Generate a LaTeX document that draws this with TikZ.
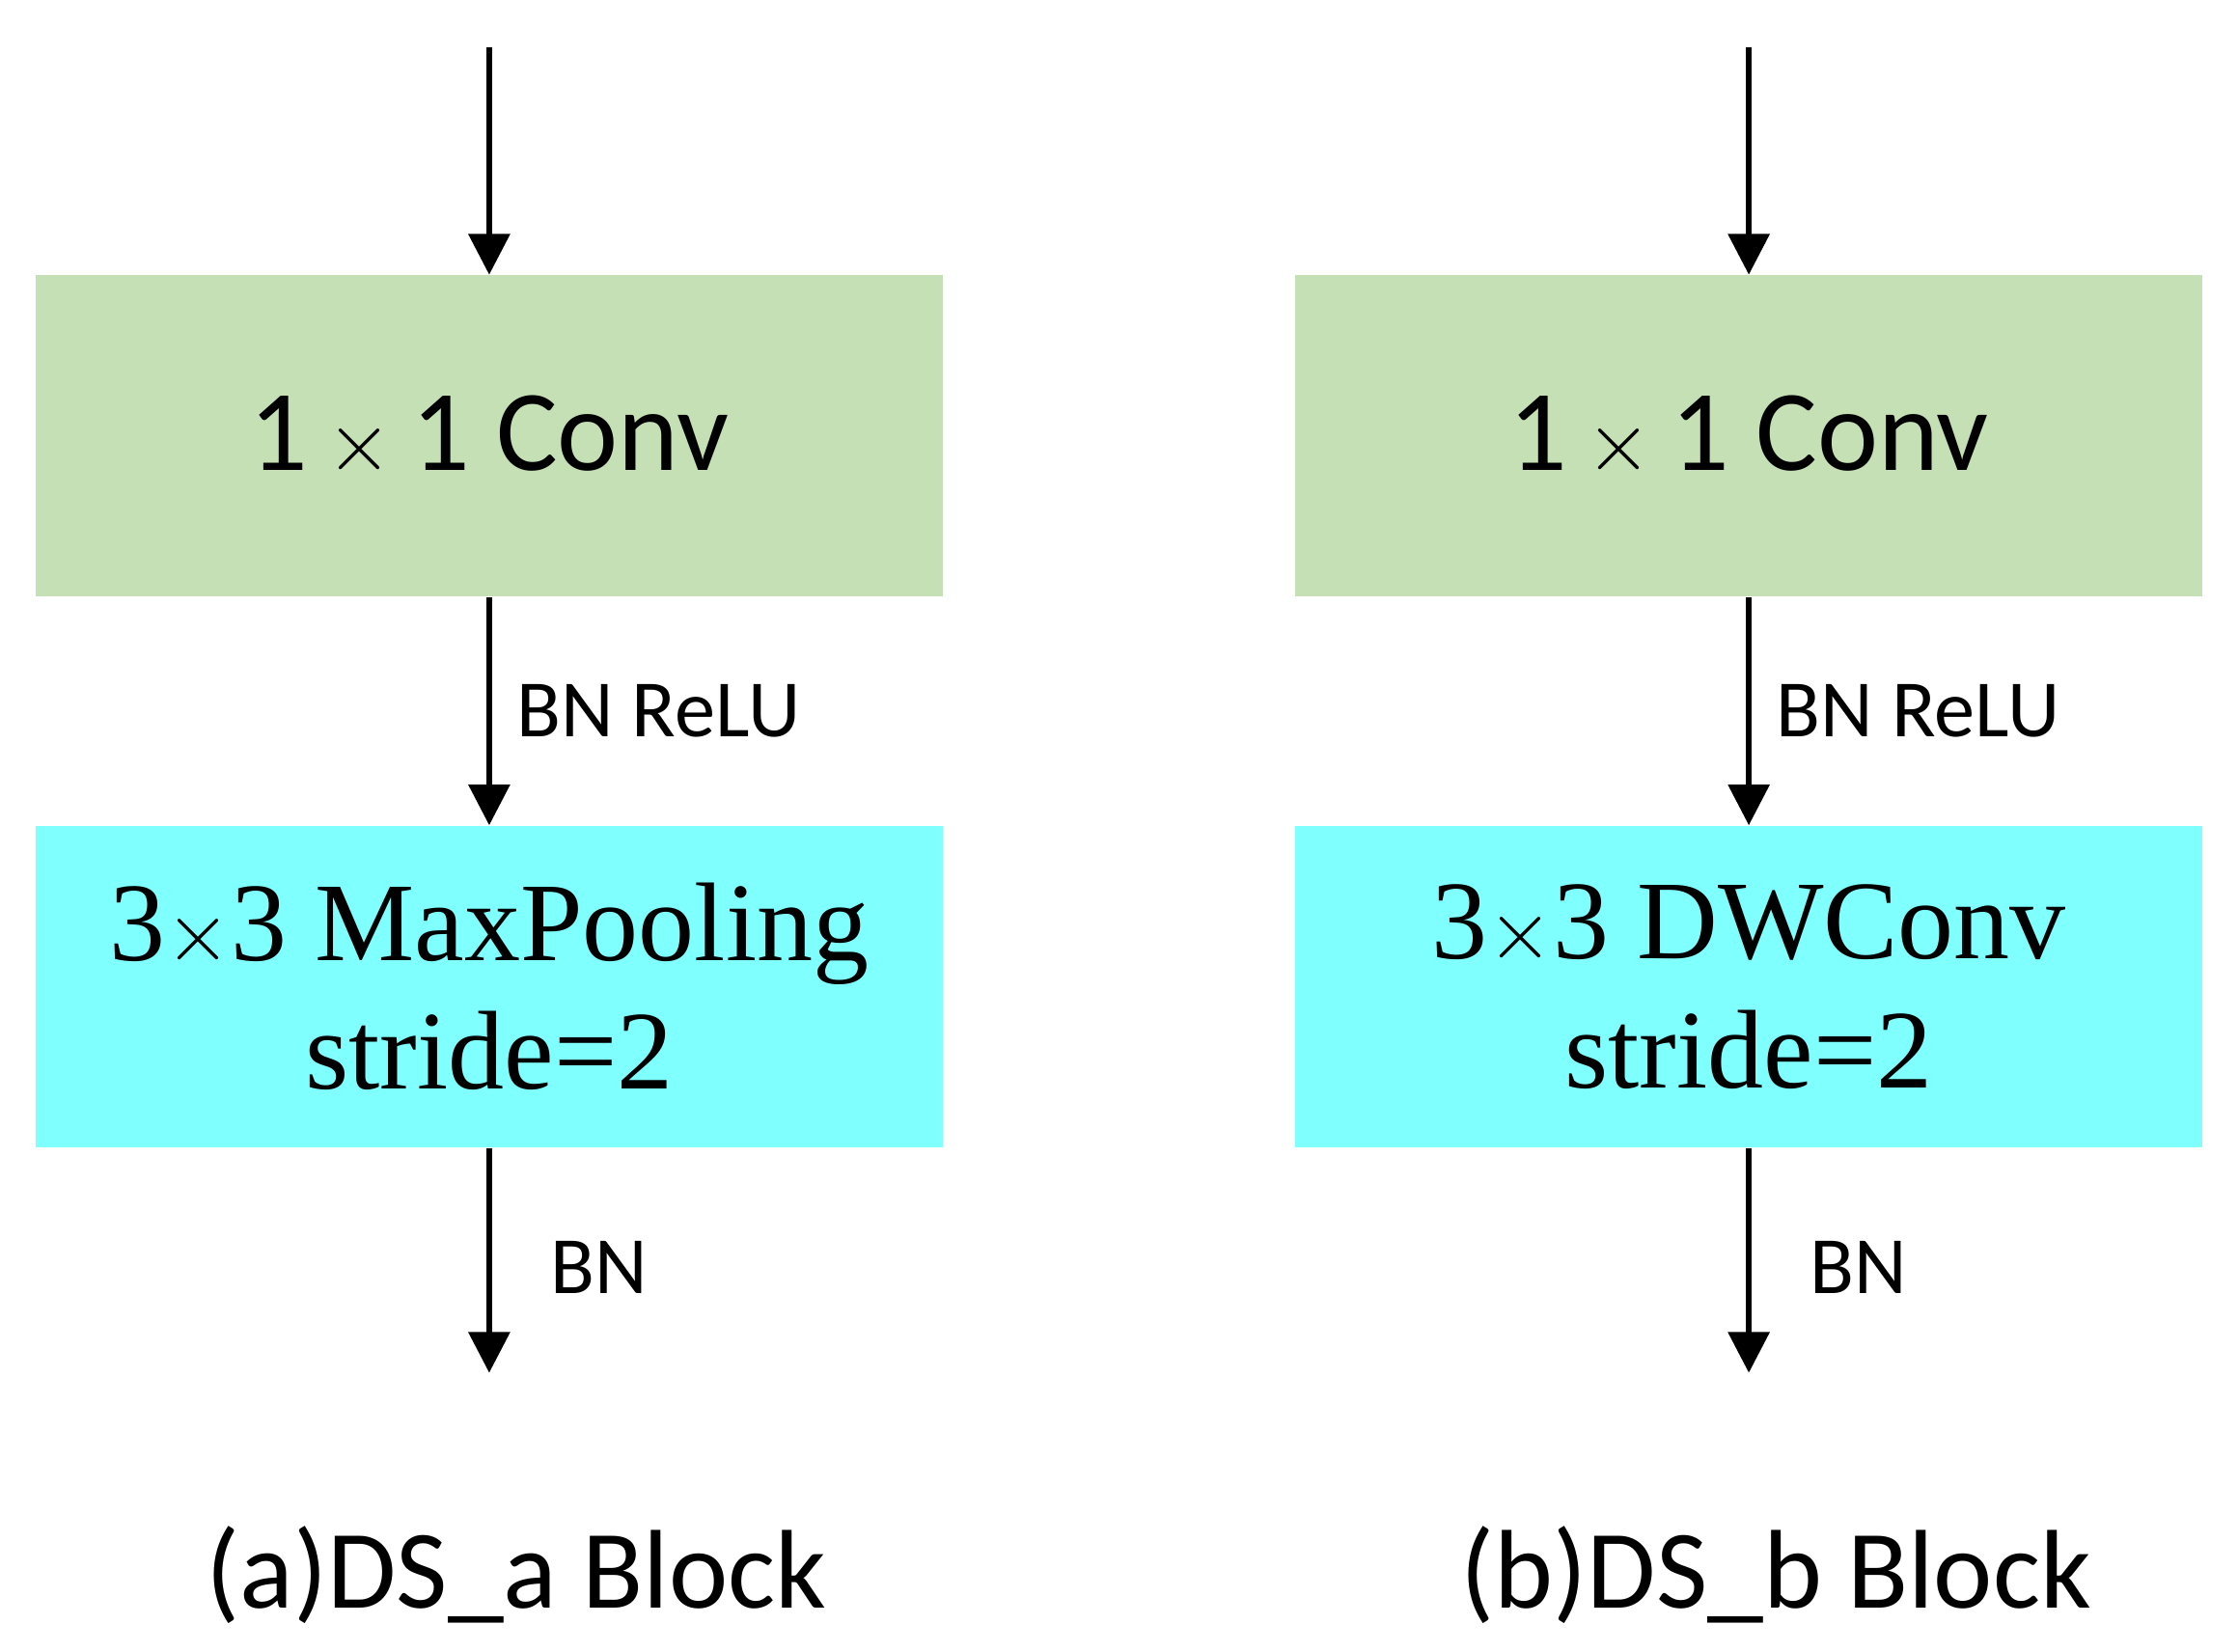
\documentclass[tikz,border=0pt]{standalone}
\usepackage{fontspec}
\setmainfont{Carlito}
\newfontfamily\timesfont{Liberation Serif}
\usetikzlibrary{positioning,arrows.meta}
\definecolor{convgreen}{HTML}{C5E0B4}
\definecolor{poolcyan}{HTML}{80FFFF}
\begin{document}
\begin{tikzpicture}
  [
    x = 0.014866cm, y = -0.014866cm,
    node distance = 2.36cm,
    block/.style   = {draw=none, minimum width=9.40cm, minimum height=3.33cm,
                      inner sep=0pt, align=center},
    conv/.style    = {block, fill=convgreen, font=\fontsize{34}{40}\selectfont},
    pool/.style    = {block, fill=poolcyan, font=\timesfont\fontsize{33}{42}\selectfont},
    flow/.style    = {draw, line width=1.6pt, -{Triangle[width=12pt,length=12pt]}},
    lab/.style     = {font=\fontsize{24}{28}\selectfont, anchor=west},
    caption/.style = {font=\fontsize{33}{40}\selectfont}
  ]
  \useasboundingbox (0,0) rectangle (1560,1151);
  % (a) DS_a
  \node[conv] (convA) at (341,304) {1\,$\times$\,1 Conv};
  \node[pool, below=of convA] (poolA) {3$\times$3 MaxPooling\\[-4pt]stride=2};
  \coordinate (inA) at (341,33);
  \coordinate (outA) at (341,957);
  \draw[flow] (inA) -- (convA);
  \draw[flow] (convA) -- node[lab, xshift=4pt] (bnreluA) {BN ReLU} (poolA);
  \draw[flow] (poolA) -- node[lab, xshift=14pt, yshift=-2pt] (bnA) {BN} (outA);
  \node[caption] (capA) at (360,1098) {(a)DS\_a Block};
  % (b) DS_b
  \node[conv] (convB) at (1219,304) {1\,$\times$\,1 Conv};
  \node[pool, below=of convB] (poolB) {3$\times$3 DWConv\\[-4pt]stride=2};
  \coordinate (inB) at (1219,33);
  \coordinate (outB) at (1219,957);
  \draw[flow] (inB) -- (convB);
  \draw[flow] (convB) -- node[lab, xshift=4pt] (bnreluB) {BN ReLU} (poolB);
  \draw[flow] (poolB) -- node[lab, xshift=14pt, yshift=-2pt] (bnB) {BN} (outB);
  \node[caption] (capB) at (1238,1098) {(b)DS\_b Block};
\end{tikzpicture}
\end{document}
